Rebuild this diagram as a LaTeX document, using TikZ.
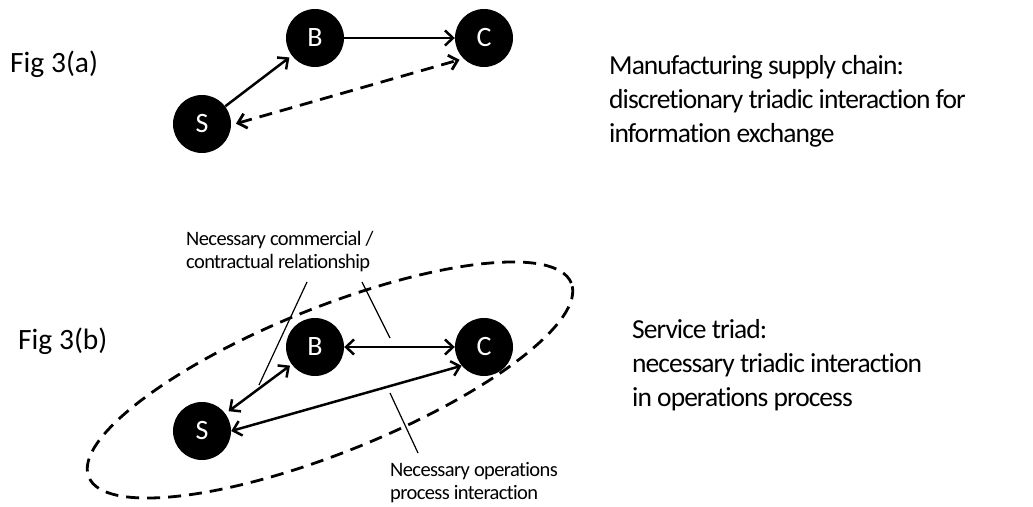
\documentclass[tikz,border=0pt]{standalone}
\usepackage{fontspec}
\setmainfont{Carlito}[Ligatures=NoCommon]
\usetikzlibrary{arrows.meta}
\begin{document}
\begin{tikzpicture}[x=1pt,y=1pt,>={Straight Barb[length=8pt,width=15pt]},
        party/.style={circle,fill=black,text=white,minimum size=58pt,inner sep=0pt,font=\fontsize{28}{30}\selectfont},
        link/.style={line width=2.5pt},
        dashlink/.style={line width=2.8pt,dash pattern=on 13pt off 8pt},
        figlabel/.style={font=\fontsize{29.5}{34}\selectfont,inner sep=0pt,anchor=base west},
        caption/.style={font=\addfontfeatures{LetterSpace=-3.5}\fontsize{27.5}{34}\selectfont,align=left,inner sep=0pt,anchor=west},
        note/.style={font=\addfontfeatures{LetterSpace=-3}\fontsize{20.5}{23}\selectfont,align=left,inner sep=0pt,anchor=west},
        leader/.style={line width=1.2pt}]
    \useasboundingbox (0,0) rectangle (1033,506);
    %=========================================== Fig 3(a)
    \node[figlabel] (figa) at (10,433) {Fig 3(a)};
    \node[party] (Ba) at (315,468) {B};
    \node[party] (Ca) at (484,468) {C};
    \node[party] (Sa) at (202,382) {S};
    \draw[link,->,shorten >=3pt] (Sa) -- (Ba);
    \draw[link,->] (Ba) -- (Ca);
    \draw[dashlink,<->,shorten <=5pt,shorten >=4pt] (Sa.-2) -- (Ca.225);
    \node[caption] (texta) at (609,405) {Manufacturing supply chain:\\discretionary triadic interaction for\\information exchange};
    %=========================================== Fig 3(b)
    \node[figlabel] (figb) at (18,156) {Fig 3(b)};
    \node[party] (Bb) at (315,159) {B};
    \node[party] (Cb) at (484,159) {C};
    \node[party] (Sb) at (202,75) {S};
    \draw[dashlink,rotate around={21.9:(330,126)}] (330,126) ellipse (260 and 72.5);
    \draw[link,<->] (Bb) -- (Cb);
    \draw[link,<->,shorten <=4pt,shorten >=2pt] (Sb) -- (Bb);
    \draw[link,<->] (Sb.east) -- (Cb.220);
    \node[caption] (textb) at (632,141) {Service triad:\\necessary triadic interaction\\in operations process};
    \node[note] (notec) at (186,254) {Necessary commercial /\\contractual relationship};
    \node[note] (noteo) at (390,23) {Necessary operations\\process interaction};
    \coordinate (c1) at (307,224); \coordinate (c2) at (259,121);
    \coordinate (c3) at (362,224); \coordinate (c4) at (390,168);
    \coordinate (o1) at (390,113); \coordinate (o2) at (418,53);
    \draw[leader] (c1) -- (c2);
    \draw[leader] (c3) -- (c4);
    \draw[leader] (o1) -- (o2);
\end{tikzpicture}
\end{document}
